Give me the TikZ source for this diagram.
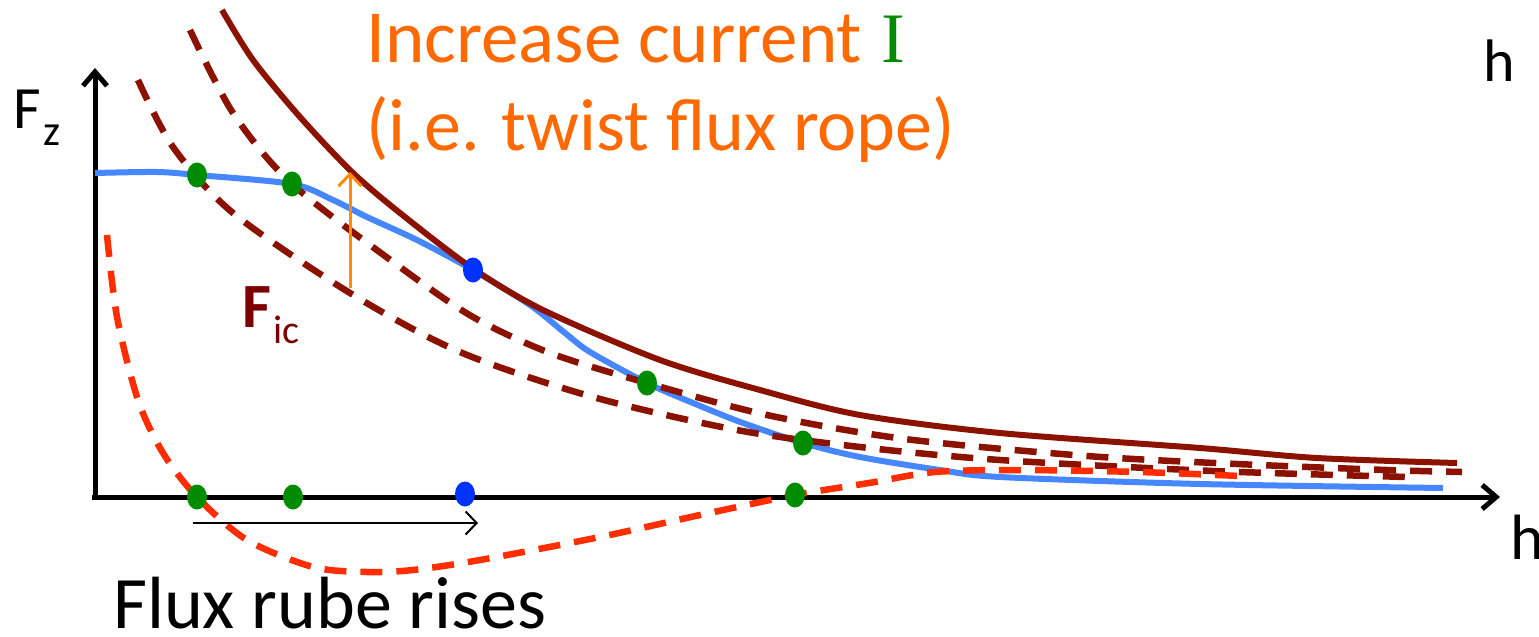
\documentclass[tikz,border=0pt]{standalone}
\usepackage{fontspec}
\setmainfont{Carlito}
\newfontfamily\serifI{Liberation Serif}
\usepackage{xcolor}
\usepackage{tikz}
\usetikzlibrary{arrows.meta,shapes.geometric}

\definecolor{ficred}{RGB}{140,18,0}
\definecolor{ficdark}{RGB}{125,0,0}
\definecolor{netred}{RGB}{255,45,0}
\definecolor{netblue}{RGB}{70,135,255}
\definecolor{eqblue}{RGB}{0,50,255}
\definecolor{eqgreen}{RGB}{0,140,0}
\definecolor{txtorange}{RGB}{255,105,0}
\definecolor{arrorange}{RGB}{255,140,0}

\begin{document}
\begin{tikzpicture}[x=1pt, y=-1pt, >={Straight Barb[length=14pt,width=24pt]},
  axis/.style={line width=5pt, ->},
  curve/.style={line width=6pt, line join=round},
  dashcurve/.style={curve, line width=6.5pt, dash pattern=on 22pt off 14pt},
  dot/.style={ellipse, minimum width=20pt, minimum height=25pt, inner sep=0pt},
  lbl/.style={inner sep=0pt, anchor=base west}]
\useasboundingbox (0,0) rectangle (1539,637);

% axes
\coordinate (origin) at (95,497);
\coordinate (ytop) at (95,68);
\coordinate (xend) at (1500,497);
\draw[axis] (92,497) -- (xend);
\draw[axis] (95,499) -- (ytop);

% net force (blue)
\draw[curve, netblue] plot[smooth, tension=0.5] coordinates {(95,173) (157,172) (197,175) (292,184) (333,200) (367,217) (417,240) (473,270) (530,305) (565,333) (590,352) (647,383) (693,403) (743,423) (803,443) (860,457) (940,470) (1000,477) (1200,484) (1443,488)};

% F_ic curves, current increasing
\draw[dashcurve, ficred] plot[smooth] coordinates {(138,80) (173,147) (233,213) (350,293) (460,352) (593,397) (737,430) (860,447) (1000,460) (1213,471) (1408,477)};
\draw[dashcurve, ficred] plot[smooth] coordinates {(190,30) (233,113) (292,184) (400,267) (473,317) (550,353) (647,383) (767,415) (905,439) (1087,456) (1237,464) (1387,470) (1462,472)};
\draw[curve, ficred] plot[smooth] coordinates {(222,10) (253,60) (300,117) (352,172) (400,213) (472,268) (543,310) (660,360) (760,390) (860,415) (1000,433) (1200,448) (1317,458) (1457,463)};

% net force on the axis (red dashed)
\draw[dashcurve, netred] plot[smooth] coordinates {(107,235) (117,317) (138,400) (163,453) (197,497) (247,540) (313,567) (367,572) (413,570) (480,560) (600,537) (700,515) (795,495) (869,483) (935,472) (1019,470) (1139,472) (1240,476)};

% equilibrium points
\node[dot, fill=eqgreen] (eq1) at (197,175) {};
\node[dot, fill=eqgreen] (eq2) at (292,184) {};
\node[dot, fill=eqblue] (eq3) at (473,270) {};
\node[dot, fill=eqgreen] (eq4) at (647,383) {};
\node[dot, fill=eqgreen] (eq5) at (803,443) {};
\node[dot, fill=eqgreen] (h1) at (197,497) {};
\node[dot, fill=eqgreen] (h2) at (293,497) {};
\node[dot, fill=eqblue] (h3) at (465,494) {};
\node[dot, fill=eqgreen] (h4) at (795,495) {};

% arrows
\coordinate (cur0) at (350,288);
\coordinate (cur1) at (350,172);
\draw[->, arrorange, line width=3pt, >={Straight Barb[length=12pt,width=23pt]}] (cur0) -- (cur1);
\coordinate (rise0) at (193,523);
\coordinate (rise1) at (478,523);
\draw[->, line width=2pt, >={Straight Barb[length=11pt,width=23pt]}] (rise0) -- (rise1);

% labels
\node[lbl] (fz) at (13,128) {\fontsize{60}{60}\selectfont F\kern3pt\raisebox{-17pt}{\fontsize{43}{43}\selectfont z}};
\node[lbl, ficdark] (fic) at (242,327) {\fontsize{63}{63}\selectfont\bfseries F\kern2pt\raisebox{-16pt}{\fontsize{40}{40}\selectfont\mdseries ic}};
\node[lbl, txtorange] (inc1) at (366,62) {\fontsize{75}{75}\selectfont Increase current};
\node[lbl, eqgreen] (curI) at (881,62) {\fontsize{71}{71}\selectfont\serifI I};
\node[lbl, txtorange] (inc2) at (366,150) {\fontsize{74}{74}\selectfont (i.e. twist flux rope)};
\node[lbl] (rise) at (113,628) {\fontsize{74}{74}\selectfont Flux rube rises};
\node[lbl] (htop) at (1483,81) {\fontsize{60}{60}\selectfont h};
\node[lbl] (hbot) at (1510,559) {\fontsize{64}{64}\selectfont h};
\end{tikzpicture}
\end{document}
